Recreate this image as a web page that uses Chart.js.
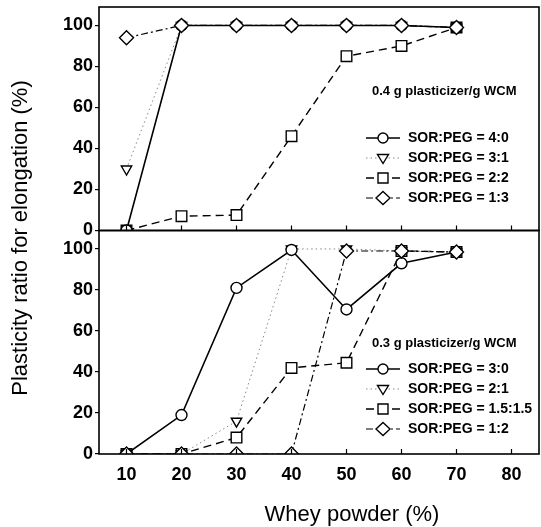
<!DOCTYPE html>
<html>
<head>
<meta charset="utf-8">
<script src="https://cdn.jsdelivr.net/npm/chart.js@4.4.1/dist/chart.umd.min.js"></script>
<style>
  html, body { margin: 0; padding: 0; background: #fff; }
  #wrap { width: 541px; height: 527px; }
</style>
</head>
<body>
<div id="wrap"><canvas id="plasticityChart" width="541" height="527"></canvas></div>
<script>
// whey powder content (%)
var wheyPowder = [10, 20, 30, 40, 50, 60, 70];
var xTickValues = [10, 20, 30, 40, 50, 60, 70, 80];
var yTickValues = [0, 20, 40, 60, 80, 100];

// 0.4 g plasticizer/g WCM
var topLabels = ['SOR:PEG = 4:0', 'SOR:PEG = 3:1', 'SOR:PEG = 2:2', 'SOR:PEG = 1:3'];
var top40 = [0, 100, 100, 100, 100, 100, 99];
var top31 = [30, 100, 100, 100, 100, 100, 99];
var top22 = [0, 7, 7.5, 46, 85, 90, 99];
var top13 = [94, 100, 100, 100, 100, 100, 99];

// 0.3 g plasticizer/g WCM
var botLabels = ['SOR:PEG = 3:0', 'SOR:PEG = 2:1', 'SOR:PEG = 1.5:1.5', 'SOR:PEG = 1:2'];
var bot30 = [0, 19, 81, 99.5, 70.5, 93, 98.5];
var bot21 = [0, 0, 16, 100, 100, 99, 98.5];
var bot15 = [0, 0, 8, 42, 44.5, 99, 98.5];
var bot12 = [0, 0, 0, 0, 99, 99, 98.5];

var styles = [
    { pointStyle: 'circle', dash: [], width: 1.6, color: '#000', order: 1, radius: 5.5 },
    { pointStyle: 'triangle', dash: [1.5, 3], width: 1, color: '#888', order: 2, radius: 6 },
    { pointStyle: 'rect', dash: [8, 5], width: 1.4, color: '#000', order: 3, radius: 7.5 },
    { pointStyle: 'rectRot', dash: [7, 3, 2, 3], width: 1.2, color: '#000', order: 0, radius: 7 }
];

function makeSet(label, values, style, axis, panel) {
    return {
        label: label,
        panel: panel,
        data: wheyPowder.map(function (w, i) { return { x: w, y: values[i] }; }),
        yAxisID: axis,
        borderColor: style.color,
        borderWidth: style.width,
        borderDash: style.dash,
        pointStyle: style.pointStyle,
        pointRotation: style.pointStyle === 'triangle' ? 180 : 0,
        pointRadius: style.radius,
        pointBackgroundColor: '#fff',
        pointBorderColor: '#000',
        pointBorderWidth: 1.4,
        order: style.order,
        tension: 0,
        fill: false
    };
}

var datasets = [];
[top40, top31, top22, top13].forEach(function (v, i) {
    datasets.push(makeSet(topLabels[i], v, styles[i], 'yTop', 'top'));
});
[bot30, bot21, bot15, bot12].forEach(function (v, i) {
    datasets.push(makeSet(botLabels[i], v, styles[i], 'yBot', 'bot'));
});

function drawMarker(ctx, style, x, y) {
    ctx.save();
    ctx.setLineDash([]);
    ctx.strokeStyle = '#000';
    ctx.lineWidth = 1.4;
    ctx.beginPath();
    if (style === 'circle') {
        ctx.arc(x, y, 5, 0, Math.PI * 2);
    } else if (style === 'triangle') {
        ctx.moveTo(x - 5.5, y - 3.5); ctx.lineTo(x + 5.5, y - 3.5); ctx.lineTo(x, y + 5.5); ctx.closePath();
    } else if (style === 'rect') {
        ctx.rect(x - 5, y - 5, 10, 10);
    } else {
        ctx.moveTo(x, y - 6.5); ctx.lineTo(x + 7, y); ctx.lineTo(x, y + 6.5); ctx.lineTo(x - 7, y); ctx.closePath();
    }
    ctx.fillStyle = '#fff';
    ctx.fill();
    ctx.stroke();
    ctx.restore();
}

var framePlugin = {
    id: 'framePlugin',
    afterDraw: function (chart) {
        var ctx = chart.ctx, a = chart.chartArea, xs = chart.scales.x;
        ctx.save();
        ctx.strokeStyle = '#000';
        ctx.lineWidth = 1.6;
        ['yTop', 'yBot'].forEach(function (id) {
            var s = chart.scales[id];
            var zero = s.getPixelForValue(0);
            ctx.strokeRect(a.left, s.top, a.right - a.left, s.bottom - s.top);
            ctx.beginPath();
            xTickValues.forEach(function (v) {
                var px = xs.getPixelForValue(v);
                ctx.moveTo(px, zero);
                ctx.lineTo(px, zero - 5);
            });
            ctx.lineWidth = 1.2;
            ctx.stroke();
            ctx.lineWidth = 1.6;
        });

        // legends
        var legends = [
            { panel: 'top', title: '0.4 g plasticizer/g WCM', titleY: 91, y0: 138 },
            { panel: 'bot', title: '0.3 g plasticizer/g WCM', titleY: 343, y0: 369 }
        ];
        legends.forEach(function (lg) {
            ctx.fillStyle = '#000';
            ctx.textBaseline = 'middle';
            ctx.textAlign = 'left';
            ctx.font = 'bold 13px "Liberation Sans", Arial, sans-serif';
            ctx.fillText(lg.title, 372, lg.titleY);
            ctx.font = 'bold 14px "Liberation Sans", Arial, sans-serif';
            var sets = chart.data.datasets.filter(function (d) { return d.panel === lg.panel; });
            sets.forEach(function (d, i) {
                var y = lg.y0 + i * 20;
                ctx.save();
                ctx.strokeStyle = d.borderColor;
                ctx.lineWidth = d.borderWidth;
                ctx.setLineDash(d.borderDash);
                ctx.beginPath();
                ctx.moveTo(366, y);
                ctx.lineTo(400, y);
                ctx.stroke();
                ctx.restore();
                drawMarker(ctx, d.pointStyle, 383, y);
                ctx.fillStyle = '#000';
                ctx.fillText(d.label, 408, y);
            });
        });

        // axis titles
        ctx.fillStyle = '#000';
        ctx.font = '22px "Liberation Sans", Arial, sans-serif';
        ctx.textAlign = 'center';
        ctx.textBaseline = 'alphabetic';
        ctx.fillText('Whey powder (%)', 352, 521);
        ctx.save();
        ctx.translate(27, 238);
        ctx.rotate(-Math.PI / 2);
        ctx.fillText('Plasticity ratio for elongation (%)', 0, 0);
        ctx.restore();
        ctx.restore();
    }
};

// scales reserve room for half a label at their ends; the frame here does not need it
function noPadding(s) {
    s.paddingTop = 0;
    s.paddingBottom = 0;
    s.paddingLeft = 0;
    s.paddingRight = 0;
}

function yAxis() {
    return {
        type: 'linear',
        position: 'left',
        stack: 'panels',
        stackWeight: 1,
        min: 0,
        max: 109,
        afterBuildTicks: function (s) {
            s.ticks = yTickValues.map(function (v) { return { value: v }; });
        },
        afterFit: function (s) { s.width = 99; noPadding(s); },
        grid: { display: true, drawOnChartArea: false, drawTicks: true, tickLength: 4, color: '#000', lineWidth: 1.2 },
        border: { display: false },
        ticks: {
            padding: 2,
            color: '#000',
            font: { family: '"Liberation Sans", Arial, sans-serif', size: 18, weight: 'bold' }
        }
    };
}

var ctx = document.getElementById('plasticityChart').getContext('2d');
var plasticityChart = new Chart(ctx, {
    type: 'line',
    data: { datasets: datasets },
    options: {
        responsive: false,
        animation: false,
        devicePixelRatio: 1,
        layout: { autoPadding: false, padding: { top: 7, right: 2, left: 0, bottom: 0 } },
        plugins: { legend: { display: false }, tooltip: { enabled: false } },
        scales: {
            x: {
                type: 'linear',
                min: 5,
                max: 85,
                afterBuildTicks: function (s) {
                    s.ticks = xTickValues.map(function (v) { return { value: v }; });
                },
                afterFit: function (s) { s.height = 73; noPadding(s); },
                grid: { display: false, drawTicks: false },
                border: { display: false },
                ticks: {
                    padding: 10,
                    color: '#000',
                    maxRotation: 0,
                    font: { family: '"Liberation Sans", Arial, sans-serif', size: 18, weight: 'bold' }
                }
            },
            // the later stacked axis is laid out on top
            yBot: yAxis(),
            yTop: yAxis()
        }
    },
    plugins: [framePlugin]
});
</script>
</body>
</html>
